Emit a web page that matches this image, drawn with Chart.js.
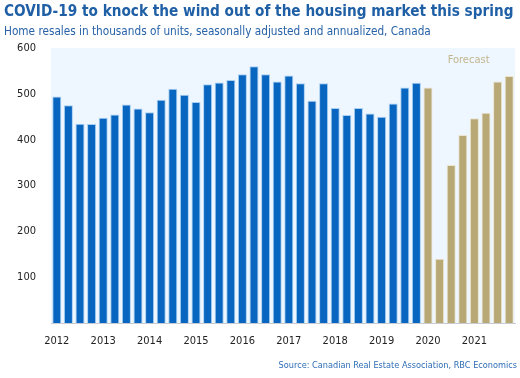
<!DOCTYPE html>
<html>
  <head>
    <meta charset="utf-8" />
    <title>Home resales</title>
    <script src="https://cdn.jsdelivr.net/npm/chart.js@4/dist/chart.umd.min.js"></script>
    <style>
      html, body { margin: 0; padding: 0; background: #fff; }
      #wrap { width: 520px; height: 378px; }
    </style>
  </head>
  <body>
    <div id="wrap"><canvas id="myChart"></canvas></div>
    <script>
      // quarterly, 2012Q1 .. 2021Q4
      const years = [2012, 2013, 2014, 2015, 2016, 2017, 2018, 2019, 2020, 2021];
      const quarters = years.flatMap((y) => ["Q1", "Q2", "Q3", "Q4"].map((q) => y + " " + q));

      // actual resales, thousands of units (2012Q1 - 2019Q4)
      const actual = [
        494, 475, 435, 434, 448, 455, 477, 468,
        460, 487, 511, 498, 482, 521, 525, 530,
        543, 560, 543, 527, 540, 523, 485, 523,
        469, 454, 469, 457, 450, 479, 514, 524,
      ];
      // RBC forecast (2020Q1 - 2021Q4)
      const forecast = [514, 140, 345, 410, 447, 459, 527, 539];

      const yTicks = [100, 200, 300, 400, 500, 600];

      const blue = "#0866c0";
      const tan = "#b8a876";
      const values = actual.concat(forecast);
      const fills = actual.map(() => blue).concat(forecast.map(() => tan));
      const edges = actual.map(() => "#a9d0f2").concat(forecast.map(() => "#ece4cc"));

      const decor = {
        id: "decor",
        beforeDraw(chart) {
          const { ctx, chartArea: a } = chart;
          ctx.save();
          ctx.fillStyle = "#eef6ff";
          ctx.fillRect(a.left, a.top, a.right - a.left, a.bottom - a.top);
          ctx.restore();
        },
        afterDraw(chart) {
          const { ctx, scales } = chart;
          ctx.save();
          ctx.textBaseline = "middle";
          ctx.textAlign = "left";
          ctx.fillStyle = "#1f5fa6";
          ctx.font = "bold 15.2px 'DejaVu Sans Condensed', 'DejaVu Sans', sans-serif";
          ctx.fillText("COVID-19 to knock the wind out of the housing market this spring", 4, 12);
          ctx.fillStyle = "#2762a8";
          ctx.font = "11.7px 'DejaVu Sans Condensed', 'DejaVu Sans', sans-serif";
          ctx.fillText("Home resales in thousands of units, seasonally adjusted and annualized, Canada", 4, 32);
          ctx.textAlign = "right";
          ctx.fillStyle = "#2f6db5";
          ctx.font = "9.1px 'DejaVu Sans Condensed', 'DejaVu Sans', sans-serif";
          ctx.fillText("Source: Canadian Real Estate Association, RBC Economics", 517, 366);
          // forecast label
          const x = (scales.x.getPixelForValue(35) + scales.x.getPixelForValue(36)) / 2;
          ctx.textAlign = "center";
          ctx.fillStyle = "#c2b68e";
          ctx.font = "11px 'DejaVu Sans Condensed', 'DejaVu Sans', sans-serif";
          ctx.fillText("Forecast", x, scales.y.getPixelForValue(574));
          ctx.restore();
        },
      };

      new Chart(document.getElementById("myChart"), {
        type: "bar",
        data: {
          labels: quarters,
          datasets: [
            {
              data: values,
              backgroundColor: fills,
              borderColor: edges,
              borderWidth: 1,
              barPercentage: 0.78,
              categoryPercentage: 1,
            },
          ],
        },
        options: {
          responsive: true,
          maintainAspectRatio: false,
          animation: false,
          layout: { padding: { top: 48, right: 5, bottom: 33, left: 0 } },
          plugins: { legend: { display: false }, tooltip: { enabled: false } },
          scales: {
            x: {
              grid: { display: false },
              border: { color: "#c8ccd2" },
              afterFit: (s) => { s.height = 22; },
              ticks: {
                autoSkip: false,
                maxRotation: 0,
                padding: 4,
                color: "#222",
                font: { family: "'DejaVu Sans Condensed', 'DejaVu Sans', sans-serif", size: 11 },
                callback: (v, i) => (i % 4 === 0 ? quarters[i].slice(0, 4) : ""),
              },
            },
            y: {
              min: 0,
              max: 600,
              grid: { display: false },
              border: { display: false },
              afterFit: (s) => { s.width = 51; },
              afterBuildTicks: (s) => { s.ticks = yTicks.map((v) => ({ value: v })); },
              ticks: {
                padding: 7,
                color: "#222",
                font: { family: "'DejaVu Sans Condensed', 'DejaVu Sans', sans-serif", size: 11 },
              },
            },
          },
        },
        plugins: [decor],
      });
    </script>
  </body>
</html>
